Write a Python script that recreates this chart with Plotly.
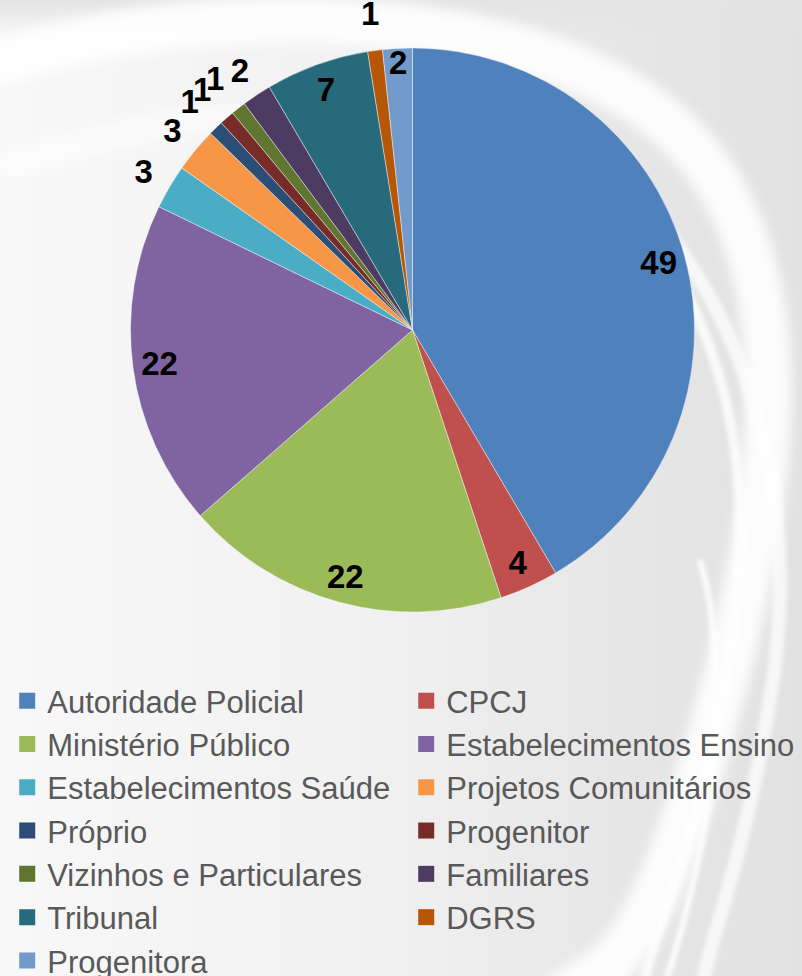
import base64
import plotly.graph_objects as go

# ---- data ----
categories = [
    "Autoridade Policial", "CPCJ", "Ministério Público", "Estabelecimentos Ensino",
    "Estabelecimentos Saúde", "Projetos Comunitários", "Próprio", "Progenitor",
    "Vizinhos e Particulares", "Familiares", "Tribunal", "DGRS", "Progenitora",
]
values = [49, 4, 22, 22, 3, 3, 1, 1, 1, 2, 7, 1, 2]
colors = [
    "#4F81BD", "#C0504D", "#9BBB59", "#8064A2", "#4BACC6", "#F79646",
    "#2C4D75", "#772C2A", "#5F7530", "#4D3B62", "#276A7C", "#B65708", "#729ACA",
]
# which value labels sit inside the pie (True) or just outside its rim (False)
label_inside = [True, True, True, True, False, False,
                False, False, False, False, True, False, True]

W, H = 802, 976
CX, CY, R = 412.5, 330.0, 282.0      # pie centre / radius in pixels
R_OUT = 328.0                         # outer ring used to place outside labels

# ---- decorative background (gradient + white swooshes) ----
svg = f'''<svg xmlns="http://www.w3.org/2000/svg" width="{W}" height="{H}" viewBox="0 0 {W} {H}">
<defs>
<linearGradient id="g" x1="0" y1="0" x2="1" y2="0">
<stop offset="0" stop-color="#f8f8f8"/><stop offset="0.45" stop-color="#f1f1f1"/>
<stop offset="0.8" stop-color="#e6e6e6"/><stop offset="1" stop-color="#e2e2e2"/>
</linearGradient>
<linearGradient id="t" x1="0" y1="0" x2="0" y2="1">
<stop offset="0" stop-color="#e4e4e4" stop-opacity="1"/><stop offset="1" stop-color="#e4e4e4" stop-opacity="0"/>
</linearGradient>
<filter id="b"><feGaussianBlur stdDeviation="6"/></filter>
<filter id="b2"><feGaussianBlur stdDeviation="2"/></filter>
</defs>
<rect width="{W}" height="{H}" fill="url(#g)"/>
<rect width="{W}" height="40" fill="url(#t)"/>
<path d="M -20 70 C 150 5, 450 -5, 620 90 S 800 400, 720 700 S 600 960, 560 1000" fill="none" stroke="#ffffff" stroke-width="46" stroke-opacity="0.9" filter="url(#b)"/>
<path d="M 560 140 C 700 250, 760 420, 735 620 S 660 900, 640 1000" fill="none" stroke="#ffffff" stroke-width="10" stroke-opacity="0.8" filter="url(#b2)"/>
<path d="M 640 200 C 760 330, 800 520, 770 700 S 710 930, 700 1000" fill="none" stroke="#ffffff" stroke-width="14" stroke-opacity="0.7" filter="url(#b2)"/>
<path d="M 700 560 C 740 700, 700 880, 660 1000" fill="none" stroke="#ffffff" stroke-width="6" stroke-opacity="0.9" filter="url(#b2)"/>
<path d="M 0 170 C 200 100, 380 95, 500 140" fill="none" stroke="#ffffff" stroke-width="30" stroke-opacity="0.5" filter="url(#b)"/>
</svg>'''
bg_uri = "data:image/svg+xml;base64," + base64.b64encode(svg.encode("utf-8")).decode("ascii")

font_family = "Liberation Sans, Arial, sans-serif"
label_font = dict(family=font_family, size=33, color="#000000", weight="bold")
transparent = ["rgba(0,0,0,0)"] * len(values)


def dom(radius):
    return dict(x=[(CX - radius) / W, (CX + radius) / W],
                y=[1 - (CY + radius) / H, 1 - (CY - radius) / H])


common = dict(labels=categories, values=values, sort=False, direction="clockwise",
              rotation=0, showlegend=False)

fig = go.Figure()
# the pie itself
fig.add_trace(go.Pie(
    **common,
    marker=dict(colors=colors, line=dict(color="rgba(255,255,255,0.6)", width=0.7)),
    textinfo="none",
    domain=dom(R),
    hoverinfo="label+value",
))
# transparent ring near the rim carrying the inside labels ("inside end")
fig.add_trace(go.Pie(
    **common,
    hole=0.81,
    marker=dict(colors=transparent, line=dict(width=0)),
    texttemplate=["%{value}" if s else "" for s in label_inside],
    textposition="inside",
    insidetextorientation="horizontal",
    textfont=label_font,
    domain=dom(R),
    hoverinfo="skip",
))
# transparent ring outside the rim carrying the outside labels
fig.add_trace(go.Pie(
    **common,
    hole=296.0 / R_OUT,
    marker=dict(colors=transparent, line=dict(width=0)),
    texttemplate=["" if s else "%{value}" for s in label_inside],
    textposition="inside",
    insidetextorientation="horizontal",
    textfont=label_font,
    domain=dom(R_OUT),
    hoverinfo="skip",
))
# legend entries (square swatches) for each category
for name, col in zip(categories, colors):
    fig.add_trace(go.Scatter(
        x=[None], y=[None], mode="markers", name=name,
        marker=dict(symbol="square", size=16, color=col),
        hoverinfo="skip", showlegend=True,
    ))

fig.update_layout(
    width=W,
    height=H,
    margin=dict(l=0, r=0, t=0, b=0, autoexpand=False),
    paper_bgcolor="#f0f0f0",
    plot_bgcolor="rgba(0,0,0,0)",
    xaxis=dict(visible=False),
    yaxis=dict(visible=False),
    uniformtext=dict(minsize=33, mode="show"),
    images=[dict(source=bg_uri, xref="paper", yref="paper", x=0, y=1,
                 sizex=1, sizey=1, xanchor="left", yanchor="top",
                 sizing="stretch", layer="below")],
    showlegend=True,
    legend=dict(
        orientation="h",
        x=0.009,
        y=1 - 674 / H,
        xanchor="left",
        yanchor="top",
        entrywidth=354,
        entrywidthmode="pixels",
        itemwidth=30,
        font=dict(family=font_family, size=31, color="#595959"),
        bgcolor="rgba(0,0,0,0)",
        traceorder="normal",
    ),
)

fig.write_html("out.html", config={"displayModeBar": False},
               post_script="document.body.style.margin='0';")
